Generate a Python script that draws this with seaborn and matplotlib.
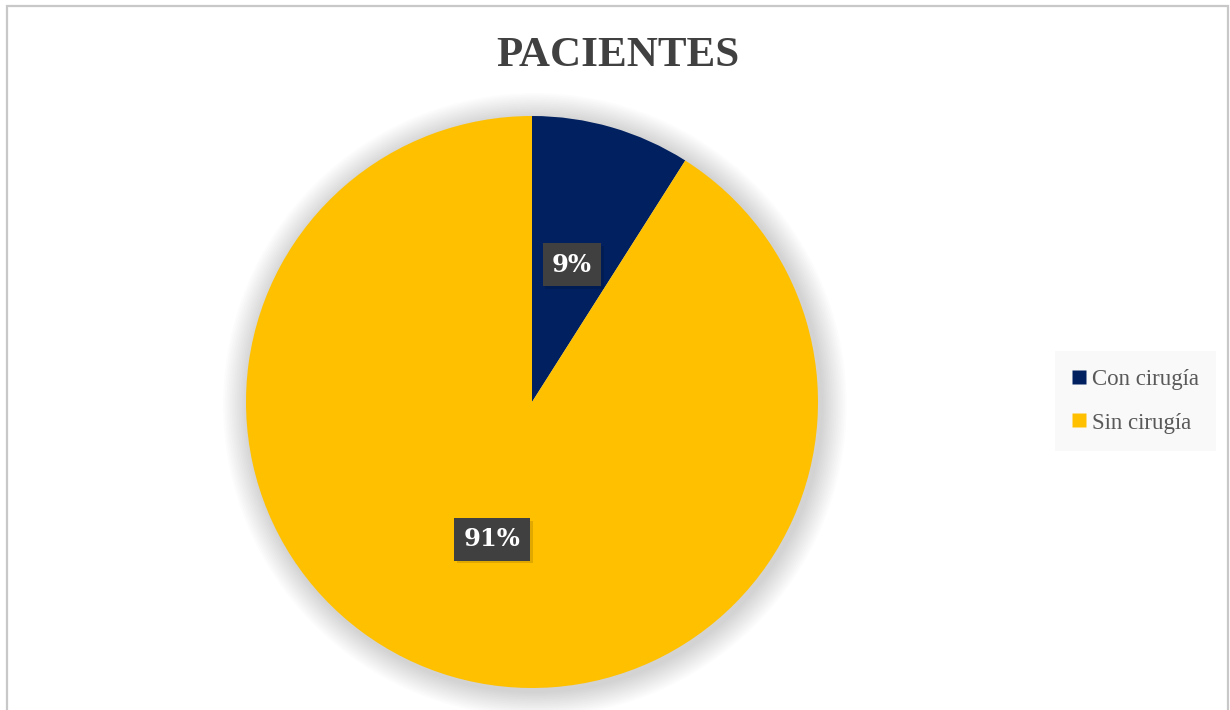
import matplotlib
matplotlib.use("Agg")
import matplotlib.pyplot as plt
import matplotlib.patches as mpatches
import matplotlib.patheffects as pe
from matplotlib.lines import Line2D
import seaborn as sns

categories = ["Con cirugía", "Sin cirugía"]
values = [9, 91]
color_hex = ["#002060", "#FFC000"]
title_text = "PACIENTES"

sns.set_style("white")
plt.rcParams["font.family"] = ["DejaVu Serif"]
palette = sns.color_palette(color_hex)

fig = plt.figure(figsize=(12.3, 7.1), dpi=100)
fig.patch.set_facecolor("white")

# chart border
W, H = 1230, 710
border = mpatches.Rectangle((7 / W, -0.05), (1228 - 7) / W, (710 - 6) / H + 0.05,
                            transform=fig.transFigure, fill=False,
                            edgecolor="#c8c8c8", linewidth=1.6)
fig.add_artist(border)

ax = fig.add_axes([246 / W, (710 - 688) / H, 572 / W, 572 / H])

# soft glow shadow
for k in range(1, 16):
    c = plt.Circle((0.01, -0.01), 1.0 + k * 0.006, color="#808080",
                   alpha=0.025, zorder=0, clip_on=False, linewidth=0)
    ax.add_patch(c)

wedges, texts, autotexts = ax.pie(
    values, colors=palette, startangle=90, counterclock=False,
    autopct=lambda p: f"{p:.0f}%", pctdistance=0.5, radius=1.0,
    wedgeprops=dict(linewidth=0),
    textprops=dict(color="white", fontsize=17.5, fontweight="bold",
                   family="DejaVu Serif"))
for w in wedges:
    w.set_zorder(2)
for t in autotexts:
    t.set_zorder(5)
    t.set_bbox(dict(boxstyle="square,pad=0.38", facecolor="#404040",
                    edgecolor="none",
                    path_effects=[pe.SimplePatchShadow(offset=(2, -2),
                                                       shadow_rgbFace="#000000",
                                                       alpha=0.12),
                                  pe.Normal()]))
ax.set_xlim(-1, 1)
ax.set_ylim(-1, 1)
ax.set_aspect("equal")
ax.axis("off")

fig.text(618 / W, 1 - 56 / H, title_text, ha="center", va="center",
         fontsize=31, fontweight="bold", color="#404040",
         family="Liberation Serif")

handles = [Line2D([0], [0], marker="s", linestyle="none", markersize=9.5,
                  markerfacecolor=palette[i], markeredgecolor="none")
           for i in range(len(categories))]
leg = fig.legend(handles, categories, loc="center left",
                 bbox_to_anchor=(1062 / W, 1 - 401 / H), frameon=True,
                 prop={"family": "Liberation Serif", "size": 16.5},
                 handletextpad=0.25, labelspacing=1.0,
                 borderpad=0.45, handlelength=0.6, borderaxespad=0)
leg.get_frame().set_facecolor("#f8f8f8")
leg.get_frame().set_edgecolor("none")
leg.get_frame().set_boxstyle("square")
for t in leg.get_texts():
    t.set_color("#595959")

fig.savefig("out.png", dpi=100, facecolor="white")
